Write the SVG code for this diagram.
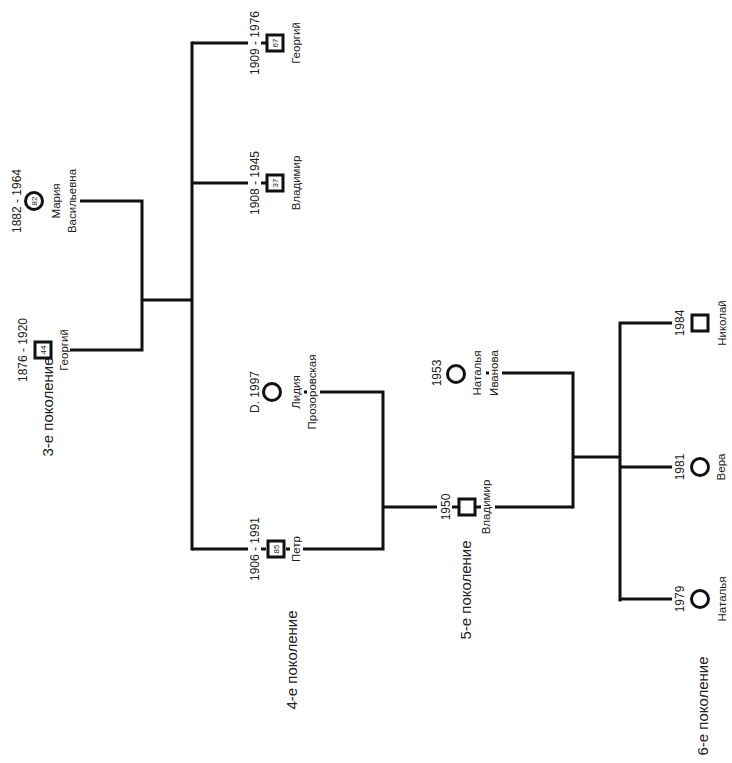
<svg xmlns="http://www.w3.org/2000/svg" width="732" height="763" viewBox="0 0 732 763">
<style>
.ln{stroke:#111;stroke-width:3;fill:none}
.nd{fill:#fff;stroke:#111;stroke-width:3}
text{font-family:"Liberation Sans",Arial,sans-serif;fill:#222;text-anchor:middle}
.dt{font-size:12px}
.nm{font-size:11.5px}
.num{font-size:8px}
.gen{font-size:15px}
</style>
<rect width="732" height="763" fill="#fff"/>
<g id="connectors">
<path class="ln" d="M80 201H142M70 350H142M142 199.5V351.5M142 300H192M192 41.5V550.5"/>
<path class="ln" d="M192 43H248M261 43H266M192 183H248M261 183H266M192 549H248M261 549H266M286 549H290"/>
<path class="ln" d="M320 392H383M304 392H307M303 549H383M383 390.5V550.5M383 507H437M452 507H458M476 507H481M495 507H573"/>
<path class="ln" d="M502 373H573M486 373H489M573 371.5V508.5M573 457H620M620 321.5V601.5M620 323H672M620 467H672M620 599H672"/>
</g>
<g id="gen3"><text class="gen" transform="translate(53,407) rotate(-90)">3-е поколение</text></g>
<g id="gen4"><text class="gen" transform="translate(297,660) rotate(-90)">4-е поколение</text></g>
<g id="gen5"><text class="gen" transform="translate(471,590) rotate(-90)">5-е поколение</text></g>
<g id="gen6"><text class="gen" transform="translate(708,706) rotate(-90)">6-е поколение</text></g>
<g id="maria">
<text class="dt" transform="translate(21,201) rotate(-90)">1882 - 1964</text>
<circle class="nd" cx="34" cy="201" r="8.5"/>
<text class="num" transform="translate(37,201) rotate(-90)">82</text>
<text class="nm" transform="translate(60,201) rotate(-90)">Мария</text>
<text class="nm" transform="translate(76,201) rotate(-90)">Васильевна</text>
</g>
<g id="georgiy44">
<text class="dt" transform="translate(27,350) rotate(-90)">1876 - 1920</text>
<rect class="nd" x="35" y="342" width="16" height="16"/>
<text class="num" transform="translate(46,350) rotate(-90)">44</text>
<text class="nm" transform="translate(68,350) rotate(-90)">Георгий</text>
</g>
<g id="georgiy67">
<text class="dt" transform="translate(259,43) rotate(-90)">1909 - 1976</text>
<rect class="nd" x="267" y="35" width="16" height="16"/>
<text class="num" transform="translate(278,43) rotate(-90)">67</text>
<text class="nm" transform="translate(300,43) rotate(-90)">Георгий</text>
</g>
<g id="vladimir37">
<text class="dt" transform="translate(259,183) rotate(-90)">1908 - 1945</text>
<rect class="nd" x="267" y="175" width="16" height="16"/>
<text class="num" transform="translate(278,183) rotate(-90)">37</text>
<text class="nm" transform="translate(300,183) rotate(-90)">Владимир</text>
</g>
<g id="lidia">
<text class="dt" transform="translate(259,392) rotate(-90)">D. 1997</text>
<circle class="nd" cx="272" cy="392" r="8.5"/>
<text class="nm" transform="translate(300,392) rotate(-90)">Лидия</text>
<text class="nm" transform="translate(316,392) rotate(-90)">Прозоровская</text>
</g>
<g id="petr85">
<text class="dt" transform="translate(259,549) rotate(-90)">1906 - 1991</text>
<rect class="nd" x="268" y="541" width="16" height="16"/>
<text class="num" transform="translate(279,549) rotate(-90)">85</text>
<text class="nm" transform="translate(300,549) rotate(-90)">Петр</text>
</g>
<g id="vladimir1950">
<text class="dt" transform="translate(450,507) rotate(-90)">1950</text>
<rect class="nd" x="459" y="499" width="16" height="16"/>
<text class="nm" transform="translate(490,507) rotate(-90)">Владимир</text>
</g>
<g id="natalia1953">
<text class="dt" transform="translate(441,373) rotate(-90)">1953</text>
<circle class="nd" cx="456" cy="374" r="8.5"/>
<text class="nm" transform="translate(481,373) rotate(-90)">Наталья</text>
<text class="nm" transform="translate(498,373) rotate(-90)">Иванова</text>
</g>
<g id="nikolai">
<text class="dt" transform="translate(684,323) rotate(-90)">1984</text>
<rect class="nd" x="692" y="315" width="16" height="16"/>
<text class="nm" transform="translate(726,323) rotate(-90)">Николай</text>
</g>
<g id="vera">
<text class="dt" transform="translate(684,467) rotate(-90)">1981</text>
<circle class="nd" cx="700" cy="467" r="8.5"/>
<text class="nm" transform="translate(725,467) rotate(-90)">Вера</text>
</g>
<g id="natalia1979">
<text class="dt" transform="translate(684,599) rotate(-90)">1979</text>
<circle class="nd" cx="700" cy="599" r="8.5"/>
<text class="nm" transform="translate(726,599) rotate(-90)">Наталья</text>
</g>
</svg>
